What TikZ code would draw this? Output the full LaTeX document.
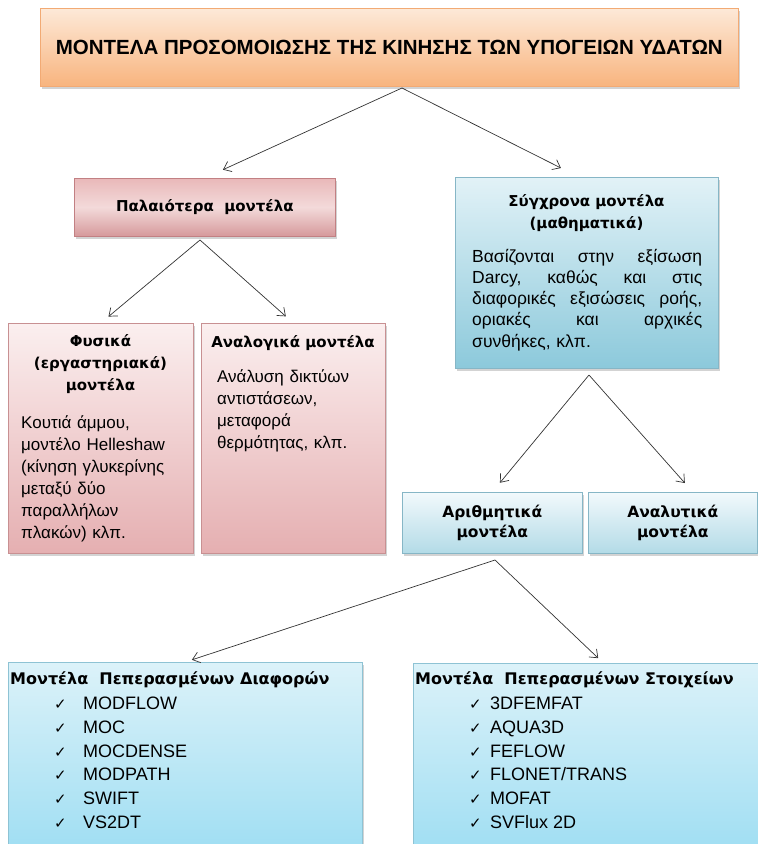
\documentclass[tikz,border=0pt]{standalone}
\usepackage{fontspec}
\setmainfont{Liberation Sans}
\newfontfamily\headfont{DejaVu Sans}
\usetikzlibrary{positioning,shadows,calc,arrows.meta}

\definecolor{titletop}{HTML}{FDE9D8}
\definecolor{titlebot}{HTML}{F8B47E}
\definecolor{titleline}{HTML}{F2AA74}
\definecolor{oldtop}{HTML}{E9B8B9}
\definecolor{oldmid}{HTML}{F3DADA}
\definecolor{oldbot}{HTML}{D6999B}
\definecolor{oldline}{HTML}{C28083}
\definecolor{pinktop}{HTML}{FBEFEF}
\definecolor{pinkbot}{HTML}{E5AFB1}
\definecolor{pinkline}{HTML}{C89092}
\definecolor{bluetop}{HTML}{E2F2F7}
\definecolor{bluebot}{HTML}{8CC9DB}
\definecolor{blueline}{HTML}{86B6C6}
\definecolor{palebluetop}{HTML}{F2F9FC}
\definecolor{palebluebot}{HTML}{B3DBE7}
\definecolor{skytop}{HTML}{DCF2F9}
\definecolor{skybot}{HTML}{9CDDF2}
\definecolor{skyline}{HTML}{8EC3D4}

\begin{document}
\begin{tikzpicture}[x=1pt, y=-1pt,
    box/.style={draw, line width=0.6pt, anchor=north west, inner sep=0pt,
      drop shadow={shadow xshift=2pt, shadow yshift=-2.5pt, opacity=0.35}},
    titlebox/.style={box, top color=titletop, bottom color=titlebot, draw=titleline},
    oldbox/.style={box, top color=oldtop, bottom color=oldbot, middle color=oldmid, draw=oldline},
    pinkbox/.style={box, top color=pinktop, bottom color=pinkbot, draw=pinkline},
    bluebox/.style={box, top color=bluetop, bottom color=bluebot, draw=blueline},
    paleblue/.style={box, top color=palebluetop, bottom color=palebluebot, draw=blueline},
    skybox/.style={box, top color=skytop, bottom color=skybot, draw=skyline},
    arr/.style={draw=black!80, line width=0.7pt, -{Straight Barb[length=7pt,width=11pt]}},
    head/.style={inner sep=0pt, font=\headfont\bfseries\fontsize{15}{22}\selectfont},
    body/.style={inner sep=0pt, font=\fontsize{17}{22}\selectfont},
    item/.style={inner sep=0pt, anchor=base west, font=\fontsize{18}{22}\selectfont}]

  \clip (0,0) rectangle (758,844);

  % top level
  \node[titlebox, minimum width=698pt, minimum height=78pt,
    font=\bfseries\fontsize{20.5}{24}\selectfont] (title) at (40,8)
    {ΜΟΝΤΕΛΑ ΠΡΟΣΟΜΟΙΩΣΗΣ ΤΗΣ ΚΙΝΗΣΗΣ ΤΩΝ ΥΠΟΓΕΙΩΝ ΥΔΑΤΩΝ};
  \coordinate (titleTip) at (402,88);

  % older models
  \node[oldbox, head, minimum width=261pt, minimum height=58pt] (old) at (74,178)
    {Παλαιότερα\ \ μοντέλα};
  \coordinate (oldTip) at (200,240);

  \node[pinkbox, minimum width=185pt, minimum height=230pt] (phys) at (8,323) {};
  \node[head, text width=185pt, align=center, anchor=base] (physHead) at (100.5,346)
    {Φυσικά\\(εργαστηριακά)\\μοντέλα};
  \node[body, text width=175pt, align=left, anchor=base west] (physBody) at (21,428)
    {Κουτιά άμμου,\\μοντέλο Helleshaw\\(κίνηση γλυκερίνης\\μεταξύ δύο\\παραλλήλων\\πλακών) κλπ.};

  \node[pinkbox, minimum width=184pt, minimum height=230pt] (analog) at (201,323) {};
  \node[head, anchor=base] (analogHead) at (293,347) {Αναλογικά μοντέλα};
  \node[body, text width=165pt, align=left, anchor=base west] (analogBody) at (217,382)
    {Ανάλυση δικτύων\\αντιστάσεων,\\μεταφορά\\θερμότητας, κλπ.};

  % modern models
  \node[bluebox, minimum width=263pt, minimum height=191pt] (modern) at (455,177) {};
  \node[head, text width=263pt, align=center, anchor=base] (modernHead) at (586.5,206)
    {Σύγχρονα μοντέλα\\(μαθηματικά)};
  \node[body, text width=230pt, align=left, anchor=base west,
    font=\fontsize{17.5}{21.3}\selectfont] (modernBody) at (472,262)
    {\makebox[230pt][s]{Βασίζονται\hfill στην\hfill εξίσωση}\\
     \makebox[230pt][s]{Darcy,\hfill καθώς\hfill και\hfill στις}\\
     \makebox[230pt][s]{διαφορικές\hfill εξισώσεις\hfill ροής,}\\
     \makebox[230pt][s]{οριακές\hfill και\hfill αρχικές}\\
     συνθήκες, κλπ.};
  \coordinate (modernTip) at (589,375);

  \node[paleblue, head, align=center, minimum width=180pt, minimum height=61pt,
    font=\headfont\bfseries\fontsize{15.5}{20}\selectfont] (numer) at (402,492)
    {Αριθμητικά\\μοντέλα};
  \node[paleblue, head, align=center, minimum width=169pt, minimum height=61pt,
    font=\headfont\bfseries\fontsize{15.5}{20}\selectfont] (analyt) at (588,492)
    {Αναλυτικά\\μοντέλα};
  \coordinate (numerTip) at (495,560);

  % codes
  \node[skybox, minimum width=354pt, minimum height=200pt] (fd) at (8,662) {};
  \node[head, anchor=base west, font=\headfont\bfseries\fontsize{16}{22}\selectfont]
    (fdHead) at (10,684) {Μοντέλα\ \ Πεπερασμένων Διαφορών};
  \foreach \m [count=\i] in {MODFLOW, MOC, MOCDENSE, MODPATH, SWIFT, VS2DT}
    \node[item] (fd\i) at (54, 686+\i*23.7)
      {\makebox[29pt][l]{\headfont\fontsize{15}{15}\selectfont ✓}\m};

  \node[skybox, minimum width=380pt, minimum height=200pt] (fe) at (413,663) {};
  \node[head, anchor=base west, font=\headfont\bfseries\fontsize{16}{22}\selectfont]
    (feHead) at (415,684) {Μοντέλα\ \ Πεπερασμένων Στοιχείων};
  \foreach \m [count=\i] in {3DFEMFAT, AQUA3D, FEFLOW, FLONET/TRANS, MOFAT, SVFlux 2D}
    \node[item] (fe\i) at (469, 686+\i*23.7)
      {\makebox[21pt][l]{\headfont\fontsize{15}{15}\selectfont ✓}\m};

  % arrows
  \draw[arr, shorten >=20pt] (titleTip) -- (old.north);
  \draw[arr, shorten >=20pt] (titleTip) -- ($(modern.north)+(-8,0)$);
  \draw[arr, shorten >=10pt] (oldTip) -- (phys.north);
  \draw[arr, shorten >=10pt] (oldTip) -- (analog.north);
  \draw[arr, shorten >=12pt] (modernTip) -- (numer.north);
  \draw[arr, shorten >=12pt] (modernTip) -- ($(analyt.north)+(20,0)$);
  \draw[arr, shorten >=7pt] (numerTip) -- (fd.north);
  \draw[arr, shorten >=7pt] (numerTip) -- (fe.north);
\end{tikzpicture}
\end{document}
